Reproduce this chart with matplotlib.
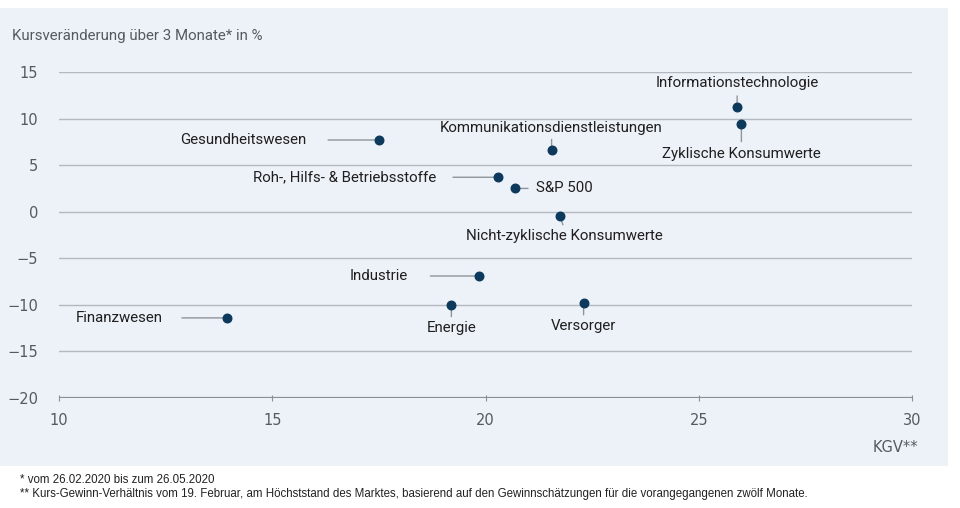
import matplotlib.pyplot as plt
from matplotlib.patches import Rectangle

# Sektoren: KGV (x) und Kursveränderung in % (y)
sectors = ['Informationstechnologie', 'Zyklische Konsumwerte', 'Kommunikationsdienstleistungen',
           'Gesundheitswesen', 'Roh-, Hilfs- & Betriebsstoffe', 'S&P 500',
           'Nicht-zyklische Konsumwerte', 'Industrie', 'Energie', 'Versorger', 'Finanzwesen']
kgv = [25.9, 26.0, 21.55, 17.5, 20.3, 20.7, 21.75, 19.85, 19.2, 22.3, 13.95]
change = [11.2, 9.4, 6.6, 7.7, 3.7, 2.5, -0.45, -6.9, -10.0, -9.8, -11.4]

xticks = [10, 15, 20, 25, 30]
yticks = [15, 10, 5, 0, -5, -10, -15, -20]

# label placement: (dx, dy) in pixels, ha, va, gap to text
layout = {
    'Informationstechnologie': (0, 24, 'center', 'center', 2),
    'Zyklische Konsumwerte': (0, -30, 'center', 'center', 2),
    'Kommunikationsdienstleistungen': (0, 22, 'center', 'center', 1),
    'Gesundheitswesen': (-73, 0, 'right', 'center', 14),
    'Roh-, Hilfs- & Betriebsstoffe': (-62, 0, 'right', 'center', 10),
    'S&P 500': (21, 0, 'left', 'center', 4),
    'Nicht-zyklische Konsumwerte': (4, -20, 'center', 'center', 1),
    'Industrie': (-71, 0, 'right', 'center', 14),
    'Energie': (0, -23, 'center', 'center', 1),
    'Versorger': (0, -23, 'center', 'center', 1),
    'Finanzwesen': (-65, 0, 'right', 'center', 12),
}

bg = '#edf1f8'
dot = '#0d3a5c'
txt = '#1f1f1f'
grey = '#555a60'

fig = plt.figure(figsize=(9.6, 5.08), dpi=100)
panel = Rectangle((0, 42 / 508), 948 / 960, 458 / 508, transform=fig.transFigure,
                  facecolor=bg, edgecolor='none', zorder=-10)
fig.add_artist(panel)

ax = fig.add_axes([59 / 960, 110 / 508, 853 / 960, 326 / 508])
ax.set_zorder(1)
ax.set_facecolor('none')
ax.set_xlim(10, 30)
ax.set_ylim(-20, 15)
for s in ax.spines.values():
    s.set_visible(False)

for y in yticks:
    if y == -20:
        ax.axhline(y, color='#8a8f96', lw=1.6, zorder=1)
    else:
        ax.axhline(y, color='#b4b8bf', lw=1.0, zorder=1)

ax.set_xticks(xticks)
ax.set_yticks(yticks)
ax.set_xticklabels([str(v) for v in xticks])
ax.set_yticklabels([str(v).replace('-', '\u2212') for v in yticks])
ax.tick_params(axis='x', length=4, direction='inout', color='#8a8f96', pad=9,
               labelsize=10.5, labelcolor=grey)
ax.tick_params(axis='y', length=0, pad=15, labelsize=10.5, labelcolor=grey)

ax.scatter(kgv, change, s=38, color=dot, zorder=4)

for name, x, y in zip(sectors, kgv, change):
    dx, dy, ha, va, gap = layout[name]
    if ha == 'right':
        rel = (1, 0.5)
    elif ha == 'left':
        rel = (0, 0.5)
    elif dy > 0:
        rel = (0.5, 0)
    else:
        rel = (0.5, 1)
    ax.annotate(name, xy=(x, y), xytext=(dx, dy), textcoords='offset pixels',
                ha=ha, va=va, fontsize=10.8, color=txt, family='Roboto',
                arrowprops=dict(arrowstyle='-', color='#8f949a', lw=1.0,
                                shrinkA=gap, shrinkB=3, relpos=rel),
                zorder=3, annotation_clip=False)

fig.text(12 / 960, 1 - 36 / 508, 'Kursveränderung über 3 Monate* in %', fontsize=10.8,
         color=grey, family='Roboto', va='center')
fig.text(918 / 960, 1 - 448 / 508, 'KGV**', fontsize=10.5, color=grey, ha='right', va='center')

fig.text(20 / 960, 1 - 480 / 508, '* vom 26.02.2020 bis zum 26.05.2020', fontsize=8.3,
         color='#222222', family='Liberation Sans', va='center')
fig.text(20 / 960, 1 - 494 / 508,
         '** Kurs-Gewinn-Verhältnis vom 19. Februar, am Höchststand des Marktes, basierend auf den '
         'Gewinnschätzungen für die vorangegangenen zwölf Monate.',
         fontsize=8.3, color='#222222', family='Liberation Sans', va='center')

fig.savefig('out.png', dpi=100)
